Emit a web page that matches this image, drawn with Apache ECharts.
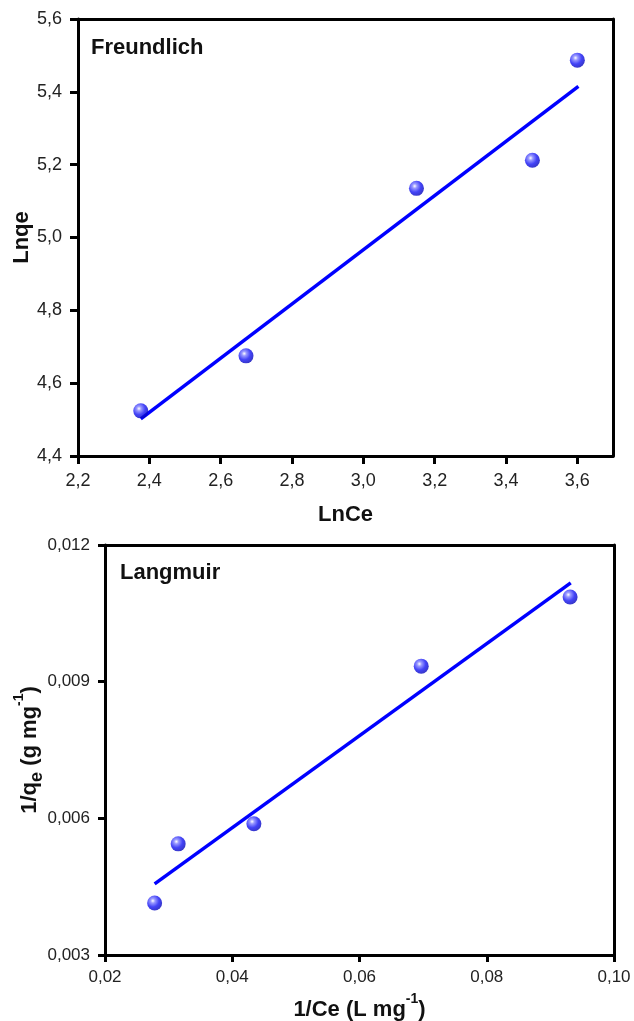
<!DOCTYPE html>
<html><head><meta charset="utf-8">
<script src="https://cdn.jsdelivr.net/npm/echarts@6/dist/echarts.min.js"></script>
<style>html,body{margin:0;padding:0;background:#fff}#c{width:634px;height:1021px}</style>
</head><body><div id="c"></div>
<script>
// Freundlich data
var frX = [2.376, 2.671, 3.149, 3.474, 3.600];
var frY = [4.524, 4.675, 5.135, 5.212, 5.487];
var frFitX = [2.376, 3.603];
var frFitY = [4.502, 5.415];
// Langmuir data
var lgX = [0.0278, 0.0315, 0.0434, 0.0697, 0.0931];
var lgY = [0.00414, 0.00544, 0.00588, 0.00934, 0.01086];
var lgFitX = [0.0278, 0.0932];
var lgFitY = [0.00456, 0.01117];
// Axis tick settings
var frXTicks = {min: 2.2, max: 3.7, interval: 0.2};
var frYTicks = {min: 4.4, max: 5.6, interval: 0.2};
var lgXTicks = {min: 0.02, max: 0.10, interval: 0.02};
var lgYTicks = {min: 0.003, max: 0.012, interval: 0.003};

function pairs(xs, ys){ return xs.map(function(x,i){return [x, ys[i]];}); }
var FONT = '"Liberation Sans", Arial, sans-serif';
var sphere = {type:'radial', x:0.38, y:0.35, r:0.75, colorStops:[
  {offset:0, color:'#ffffff'}, {offset:0.2, color:'#8080ff'},
  {offset:0.55, color:'#1414f5'}, {offset:1, color:'#0000a8'}]};
function fmt(d){ return function(v){ return v.toFixed(d).replace('.', ','); }; }
function valAxis(grid, ticks, dec, fs, margin, tickLen, showMax, extra){
  var a = {type:'value', gridIndex:grid, min:ticks.min, max:ticks.max, interval:ticks.interval,
    nameMoveOverlap:false,
    axisLine:{show:true, onZero:false, lineStyle:{color:'#000', width:3}},
    axisTick:{show:true, inside:false, length:tickLen, lineStyle:{color:'#000', width:3}},
    axisLabel:{show:true, color:'#222', fontSize:fs, fontFamily:FONT, formatter:fmt(dec), margin:margin,
      showMaxLabel:showMax, showMinLabel:true, hideOverlap:false},
    splitLine:{show:false}};
  for (var k in extra) a[k] = extra[k];
  return a;
}
function frameAxis(grid, ticks, pos){
  return {type:'value', gridIndex:grid, position:pos, min:ticks.min, max:ticks.max, interval:ticks.interval,
    axisLine:{show:true, onZero:false, lineStyle:{color:'#000', width:3}},
    axisTick:{show:false}, axisLabel:{show:false}, splitLine:{show:false}};
}
var nameStyle = {color:'#111', fontSize:22, fontWeight:'bold', fontFamily:FONT};
var richName = {
  sub:{fontSize:18, fontWeight:'bold', fontFamily:FONT, color:'#111', verticalAlign:'bottom', padding:[0,0,-5,0]},
  sup:{fontSize:14, fontWeight:'bold', fontFamily:FONT, color:'#111', verticalAlign:'top', padding:[-7,0,0,0]}
};
var chart = echarts.init(document.getElementById('c'), null, {renderer:'canvas'});
chart.setOption({
  animation:false,
  backgroundColor:'#fff',
  grid:[
    {left:78, top:19, width:535, height:437, containLabel:false, outerBoundsMode:'none'},
    {left:105, top:545, width:509, height:410, containLabel:false, outerBoundsMode:'none'}
  ],
  title:[
    {text:'Freundlich', left:86, top:32, textStyle:{fontSize:22, fontWeight:'bold', fontFamily:FONT, color:'#111'}},
    {text:'Langmuir', left:115, top:557, textStyle:{fontSize:22, fontWeight:'bold', fontFamily:FONT, color:'#111'}}
  ],
  xAxis:[
    valAxis(0, frXTicks, 1, 18, 16, 8, false, {name:'LnCe', nameLocation:'middle', nameGap:48, nameTextStyle:nameStyle}),
    valAxis(1, lgXTicks, 2, 17, 14, 7, true, {name:'1/Ce (L mg{sup|-1})', nameLocation:'middle', nameGap:44,
      nameTextStyle:Object.assign({rich:richName}, nameStyle)}),
    frameAxis(0, frXTicks, 'top'),
    frameAxis(1, lgXTicks, 'top')
  ],
  yAxis:[
    valAxis(0, frYTicks, 1, 18, 16, 8, true, {name:'Lnqe', nameLocation:'middle', nameGap:45, nameRotate:90, nameTextStyle:nameStyle}),
    valAxis(1, lgYTicks, 3, 17, 15, 7, true, {name:'1/q{sub|e} (g mg{sup|-1})', nameLocation:'middle', nameGap:64, nameRotate:90,
      nameTextStyle:Object.assign({rich:richName}, nameStyle)}),
    frameAxis(0, frYTicks, 'right'),
    frameAxis(1, lgYTicks, 'right')
  ],
  series:[
    {type:'line', xAxisIndex:0, yAxisIndex:0, data:pairs(frFitX, frFitY), showSymbol:false, symbol:'none',
      lineStyle:{color:'#0000ff', width:3.5}, z:2},
    {type:'scatter', xAxisIndex:0, yAxisIndex:0, data:pairs(frX, frY), symbolSize:15,
      itemStyle:{color:sphere}, z:3},
    {type:'line', xAxisIndex:1, yAxisIndex:1, data:pairs(lgFitX, lgFitY), showSymbol:false, symbol:'none',
      lineStyle:{color:'#0000ff', width:3.5}, z:2},
    {type:'scatter', xAxisIndex:1, yAxisIndex:1, data:pairs(lgX, lgY), symbolSize:15,
      itemStyle:{color:sphere}, z:3}
  ]
});
</script></body></html>
